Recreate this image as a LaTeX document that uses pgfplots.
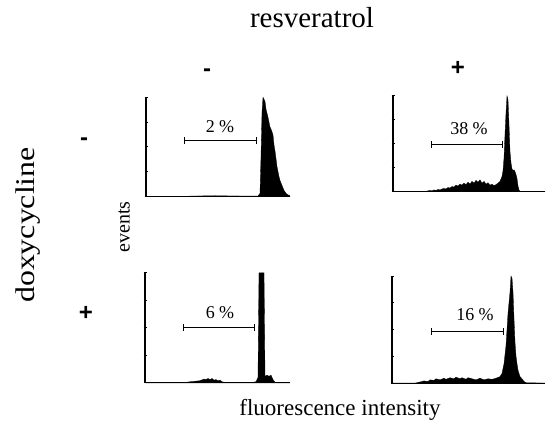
\documentclass[border=0pt]{standalone}
\usepackage{pgfplots}
\pgfplotsset{compat=1.18}
\usepackage{fontspec}
\setmainfont{Liberation Serif}
\newfontfamily\signfont{Liberation Sans}
\tikzset{pct/.style={font=\fontsize{18}{18}\selectfont}}
\begin{document}
\begin{tikzpicture}[x=1pt,y=1pt]
\path (0,0) rectangle (551,428);
\pgfplotsset{panel/.style={scale only axis, anchor=origin, axis lines=left,
  axis line style={-, line width=1.1pt}, xtick=\empty, ytick={0,25,50,75,100},
  yticklabels={}, major tick length=3pt, tick align=center,
  tick style={black, line width=0.8pt}, xmin=0, ymin=0, ymax=100, enlargelimits=false, clip=false},
  hist/.style={fill=black, draw=black, line width=0.3pt, sharp plot},
  brk/.style={black, line width=0.9pt, mark=|, mark size=3.5pt, mark options={line width=0.9pt}}}
% top-left: dox -, res -
\begin{axis}[panel, at={(146,234)}, width=144pt, height=99pt, xmax=144]
\addplot[hist] coordinates {(0,0) (34,0) (54,0.4) (69,0.6) (84,0.4) (99,0.3) (112,0.3) (114,3) (115,40) (116,85) (117,100) (118,98) (119,96) (120,88) (121,84) (122,80) (123,75) (124,70) (125,68) (126,65) (127,62) (128,52) (129,46) (130,38) (131,30) (132,25) (133,20) (134,16) (136,11) (138,6) (140,3) (142,1.5) (144,0.5)} \closedcycle;
\addplot[brk] coordinates {(38,56.6) (110,56.6)};
\node[pct] at (axis cs:74,70) {2 \%};
\end{axis}
% top-right: dox -, res +
\begin{axis}[panel, at={(393,246)}, width=152pt, height=96pt, xmax=152]
\addplot[hist] coordinates {(0,0) (27,0) (32,0.5) (35,1) (37,1.5) (39,1) (41,2) (43,1.5) (45,2.5) (47,2) (49,3) (51,3.5) (53,3) (55,4.5) (57,4) (59,5.5) (61,5) (63,7) (65,6) (67,8) (69,7) (71,9) (73,7.5) (75,10) (77,8) (79,11) (81,9) (83,12) (85,10) (87,12.5) (89,9) (91,11) (93,8) (95,9.5) (97,7) (99,8) (101,6.5) (103,7.5) (105,9) (107,11) (109,16) (110,22) (111,35) (112,60) (113,82) (114,100) (115,96) (116,70) (117,42) (118,30) (119,24) (120,22) (121,23) (122,21) (123,18) (124,14) (125,6) (126,2) (127,0.5) (152,0)} \closedcycle;
\addplot[brk] coordinates {(38,49) (109,49)};
\node[pct] at (axis cs:76,66) {38 \%};
\end{axis}
% bottom-left: dox +, res -
\begin{axis}[panel, at={(145,41)}, width=145pt, height=110pt, xmax=145]
\addplot[hist] coordinates {(0,0) (35,0) (40,0.5) (45,1) (50,1.5) (55,2) (59,3.5) (61,3) (63,4) (65,3) (67,4) (69,2.5) (71,3) (73,2) (75,2.5) (77,1) (80,0.5) (85,0.3) (105,0.3) (111,1) (113,5) (114,100) (119,100) (120,6) (122,7) (124,6) (126,7) (128,3) (130,0.5) (145,0)} \closedcycle;
\addplot[brk] coordinates {(38,50) (109,50)};
\node[pct] at (axis cs:75,64) {6 \%};
\end{axis}
% bottom-right: dox +, res +
\begin{axis}[panel, at={(392,42)}, width=153pt, height=107pt, xmax=153]
\addplot[hist] coordinates {(0,0) (23,0) (26,0.5) (28,1) (32,2) (36,1.5) (38,3) (42,2.5) (44,4) (48,3) (52,4.5) (54,3.5) (58,5) (62,4) (64,5.5) (68,4) (70,5) (74,3.5) (76,5) (80,4) (84,3) (88,4.5) (92,3) (96,4) (100,3.5) (104,4.5) (108,6) (110,9) (112,18) (114,35) (116,65) (118,85) (119,100) (120,98) (121,85) (122,60) (123,38) (124,25) (125,18) (126,12) (127,9) (128,6) (130,4) (132,1.5) (134,0.3) (153,0)} \closedcycle;
\addplot[brk] coordinates {(39,48) (111,48)};
\node[pct] at (axis cs:83,64) {16 \%};
\end{axis}
% labels
\node[font=\fontsize{29}{29}\selectfont] at (312,410) {resveratrol};
\node[font=\signfont\bfseries\fontsize{24}{24}\selectfont] at (207,355) {-};
\node[font=\signfont\bfseries\fontsize{24}{24}\selectfont] at (458,360) {+};
\node[font=\signfont\bfseries\fontsize{24}{24}\selectfont] at (84,286) {-};
\node[font=\signfont\bfseries\fontsize{24}{24}\selectfont] at (86,115) {+};
\node[rotate=90, font=\fontsize{27}{27}\selectfont] at (28,203) {\scalebox{1.18}[1]{doxycycline}};
\node[rotate=90, font=\fontsize{20}{20}\selectfont] at (124,201) {events};
\node[font=\fontsize{23}{23}\selectfont] at (340,18) {fluorescence intensity};
\end{tikzpicture}
\end{document}
